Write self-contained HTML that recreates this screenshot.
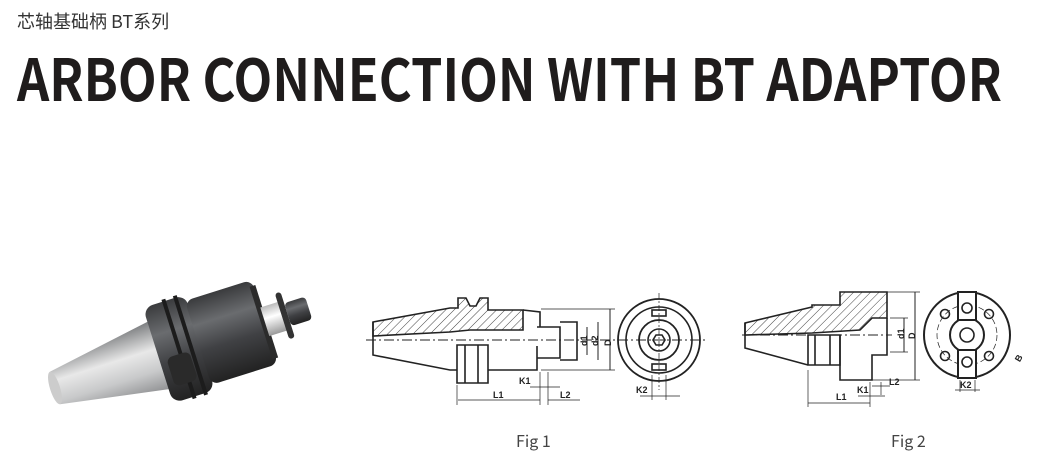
<!DOCTYPE html>
<html><head><meta charset="utf-8"><style>
html,body{margin:0;padding:0;background:#fff;}
body{width:1037px;height:457px;overflow:hidden;position:relative;}
svg{position:absolute;left:0;top:0;}
</style></head><body>
<svg width="1037" height="457" viewBox="0 0 1037 457" xmlns="http://www.w3.org/2000/svg">
<defs>
<linearGradient id="cone" x1="0" y1="0" x2="0" y2="1">
<stop offset="0" stop-color="#7a7c7e"/><stop offset="0.4" stop-color="#e8e8e8"/><stop offset="0.7" stop-color="#c8c9ca"/><stop offset="1" stop-color="#909193"/></linearGradient>
<linearGradient id="dark" x1="0" y1="0" x2="0" y2="1">
<stop offset="0" stop-color="#3a3b3d"/><stop offset="0.3" stop-color="#6a6c6f"/><stop offset="0.6" stop-color="#404144"/><stop offset="1" stop-color="#222"/></linearGradient>
<linearGradient id="neck" x1="0" y1="0" x2="0" y2="1">
<stop offset="0" stop-color="#bbb"/><stop offset="0.4" stop-color="#fff"/><stop offset="1" stop-color="#999"/></linearGradient>
<pattern id="hatch" width="6" height="6" patternUnits="userSpaceOnUse" patternTransform="rotate(45)">
<line x1="0" y1="0" x2="0" y2="6" stroke="#444" stroke-width="1"/></pattern>
</defs>
<text x="17" y="28" font-family="'Noto Sans CJK SC',sans-serif" font-size="18" fill="#333">芯轴基础柄 BT系列</text>
<text x="17" y="101" font-family="'Noto Sans CJK SC',sans-serif" font-weight="bold" font-size="58" fill="#1f1c1c" textLength="985" lengthAdjust="spacingAndGlyphs">ARBOR CONNECTION WITH BT ADAPTOR</text>

<!-- photo -->
<g transform="translate(55,388) rotate(-17.5)">
<path d="M0,-17 L112,-36 L112,36 L0,17 Z" fill="url(#cone)"/>
<ellipse cx="0" cy="0" rx="5" ry="17" fill="#ccc"/>
<rect x="108" y="-50" width="44" height="100" rx="10" fill="url(#dark)"/>
<rect x="128" y="-52" width="4" height="104" fill="#1c1c1c"/>
<rect x="140" y="-52" width="4" height="104" fill="#1c1c1c"/>
<rect x="115" y="5" width="24" height="30" rx="6" fill="#2a2a2a"/>
<rect x="150" y="-44" width="70" height="88" rx="8" fill="url(#dark)"/>
<rect x="216" y="-38" width="6" height="76" fill="#2b2b2b"/>
<rect x="220" y="-15" width="20" height="30" fill="url(#neck)"/>
<rect x="238" y="-24" width="6" height="48" rx="3" fill="#333"/>
<rect x="244" y="-12" width="22" height="24" rx="4" fill="url(#dark)"/>
</g>

<g fill="none" stroke="#222" stroke-width="1.6" font-family="'Liberation Sans',sans-serif">
<!-- Fig 1 -->
<line x1="366" y1="340" x2="705" y2="340" stroke-dasharray="10,3,2,3" stroke-width="0.9"/>
<path d="M373,322 L450,308 L458,308 L458,298 L466,298 L470,306 L476,306 L480,298 L488,298 L488,310 L523,310 L523,330 L470,330 L450,332 L373,336 Z" fill="url(#hatch)"/>
<path d="M373,322 L373,355 L450,370 L457,370"/>
<path d="M457,345 L488,345 L488,383 L457,383 Z M465,345 L465,383 M478,345 L478,383"/>
<path d="M488,370 L537,370 L537,346 M523,310 L540,312 L540,327 M537,327 L560,327 L560,358 L537,358 M560,322 L577,322 L577,360 L560,360"/>
<line x1="541" y1="309" x2="615" y2="309" stroke-width="0.8"/>
<line x1="541" y1="370" x2="615" y2="370" stroke-width="0.8"/>
<line x1="610" y1="309" x2="610" y2="370" stroke-width="1"/>
<line x1="587" y1="327" x2="587" y2="355" stroke-width="1"/>
<line x1="598" y1="322" x2="598" y2="360" stroke-width="1"/>
<text x="580" y="345" font-size="9" font-weight="bold" fill="#222" stroke="none" transform="rotate(-90 584 342)">d1</text>
<text x="591" y="345" font-size="9" font-weight="bold" fill="#222" stroke="none" transform="rotate(-90 595 342)">d2</text>
<text x="604" y="345" font-size="9" font-weight="bold" fill="#222" stroke="none" transform="rotate(-90 608 342)">D</text>
<circle cx="659" cy="340" r="41" stroke-width="1.8"/>
<circle cx="659" cy="340" r="33"/>
<circle cx="659" cy="340" r="20" stroke-width="1.8"/>
<circle cx="659" cy="340" r="11"/>
<polygon points="665,340 662,345 656,345 653,340 656,335 662,335"/>
<rect x="652" y="310" width="14" height="6"/>
<rect x="652" y="364" width="14" height="6"/>
<line x1="659" y1="293" x2="659" y2="390" stroke-dasharray="6,2,2,2" stroke-width="0.7"/>
<line x1="457" y1="385" x2="457" y2="405" stroke-width="0.7"/>
<line x1="540" y1="372" x2="540" y2="405" stroke-width="0.7"/>
<line x1="548" y1="372" x2="548" y2="405" stroke-width="0.7"/>
<line x1="458" y1="400" x2="540" y2="400" stroke-width="0.8"/>
<line x1="548" y1="400" x2="580" y2="400" stroke-width="0.8"/>
<line x1="530" y1="387" x2="560" y2="387" stroke-width="0.8"/>
<text x="493" y="398" font-size="9" font-weight="bold" fill="#222" stroke="none">L1</text>
<text x="519" y="384" font-size="9" font-weight="bold" fill="#222" stroke="none">K1</text>
<text x="560" y="398" font-size="9" font-weight="bold" fill="#222" stroke="none">L2</text>
<line x1="652" y1="375" x2="652" y2="400" stroke-width="0.7"/>
<line x1="666" y1="375" x2="666" y2="400" stroke-width="0.7"/>
<line x1="640" y1="396" x2="680" y2="396" stroke-width="0.8"/>
<text x="636" y="393" font-size="9" font-weight="bold" fill="#222" stroke="none">K2</text>

<!-- Fig 2 -->
<line x1="742" y1="335" x2="892" y2="335" stroke-dasharray="10,3,2,3" stroke-width="0.9"/>
<path d="M745,323 L812,307 L812,305 L840,305 L840,292 L887,292 L887,318 L872,318 L860,330 L812,333 L745,335 Z" fill="url(#hatch)"/>
<path d="M745,323 L745,348 L808,365 M808,335 L840,335 L840,365 L808,365 Z M815,335 L815,365 M830,335 L830,365"/>
<path d="M840,335 L840,380 L872,380 L872,355 L887,355 L887,318"/>
<line x1="880" y1="292" x2="920" y2="292" stroke-width="0.8"/>
<line x1="872" y1="380" x2="920" y2="380" stroke-width="0.8"/>
<line x1="915" y1="292" x2="915" y2="380" stroke-width="1"/>
<line x1="890" y1="318" x2="908" y2="318" stroke-width="0.8"/>
<line x1="890" y1="352" x2="908" y2="352" stroke-width="0.8"/>
<line x1="904" y1="318" x2="904" y2="352" stroke-width="1"/>
<text x="897" y="338" font-size="9" font-weight="bold" fill="#222" stroke="none" transform="rotate(-90 901 335)">d1</text>
<text x="908" y="338" font-size="9" font-weight="bold" fill="#222" stroke="none" transform="rotate(-90 912 335)">D</text>
<line x1="808" y1="370" x2="808" y2="407" stroke-width="0.7"/>
<line x1="870" y1="382" x2="870" y2="407" stroke-width="0.7"/>
<line x1="881" y1="382" x2="881" y2="395" stroke-width="0.7"/>
<line x1="808" y1="403" x2="870" y2="403" stroke-width="0.8"/>
<line x1="858" y1="396" x2="885" y2="396" stroke-width="0.8"/>
<line x1="872" y1="386" x2="890" y2="386" stroke-width="0.8"/>
<text x="836" y="400" font-size="9" font-weight="bold" fill="#222" stroke="none">L1</text>
<text x="857" y="393" font-size="9" font-weight="bold" fill="#222" stroke="none">K1</text>
<text x="889" y="385" font-size="9" font-weight="bold" fill="#222" stroke="none">L2</text>
<circle cx="967" cy="335" r="43" stroke-width="2"/>
<circle cx="967" cy="335" r="30" stroke-dasharray="6,3" stroke-width="0.7"/>
<circle cx="967" cy="335" r="17" stroke-width="2"/>
<circle cx="967" cy="335" r="7"/>
<rect x="958" y="292" width="18" height="28" fill="#fff" stroke-width="2"/>
<rect x="958" y="350" width="18" height="28" fill="#fff" stroke-width="2"/>
<circle cx="967" cy="308" r="5"/><circle cx="967" cy="362" r="5"/>
<circle cx="945" cy="314" r="4.5"/><circle cx="989" cy="314" r="4.5"/>
<circle cx="945" cy="356" r="4.5"/><circle cx="989" cy="356" r="4.5"/>
<line x1="960" y1="380" x2="960" y2="392" stroke-width="0.7"/>
<line x1="975" y1="380" x2="975" y2="392" stroke-width="0.7"/>
<line x1="955" y1="390" x2="980" y2="390" stroke-width="0.8"/>
<text x="960" y="388" font-size="9" font-weight="bold" fill="#222" stroke="none">K2</text>
<text x="1016" y="360" font-size="9" font-weight="bold" fill="#222" stroke="none" transform="rotate(-60 1020 358)">B</text>
</g>
<text x="516" y="447" font-family="'Noto Sans CJK SC',sans-serif" font-size="16" fill="#444">Fig 1</text>
<text x="891" y="447" font-family="'Noto Sans CJK SC',sans-serif" font-size="16" fill="#444">Fig 2</text>
</svg>
</body></html>
